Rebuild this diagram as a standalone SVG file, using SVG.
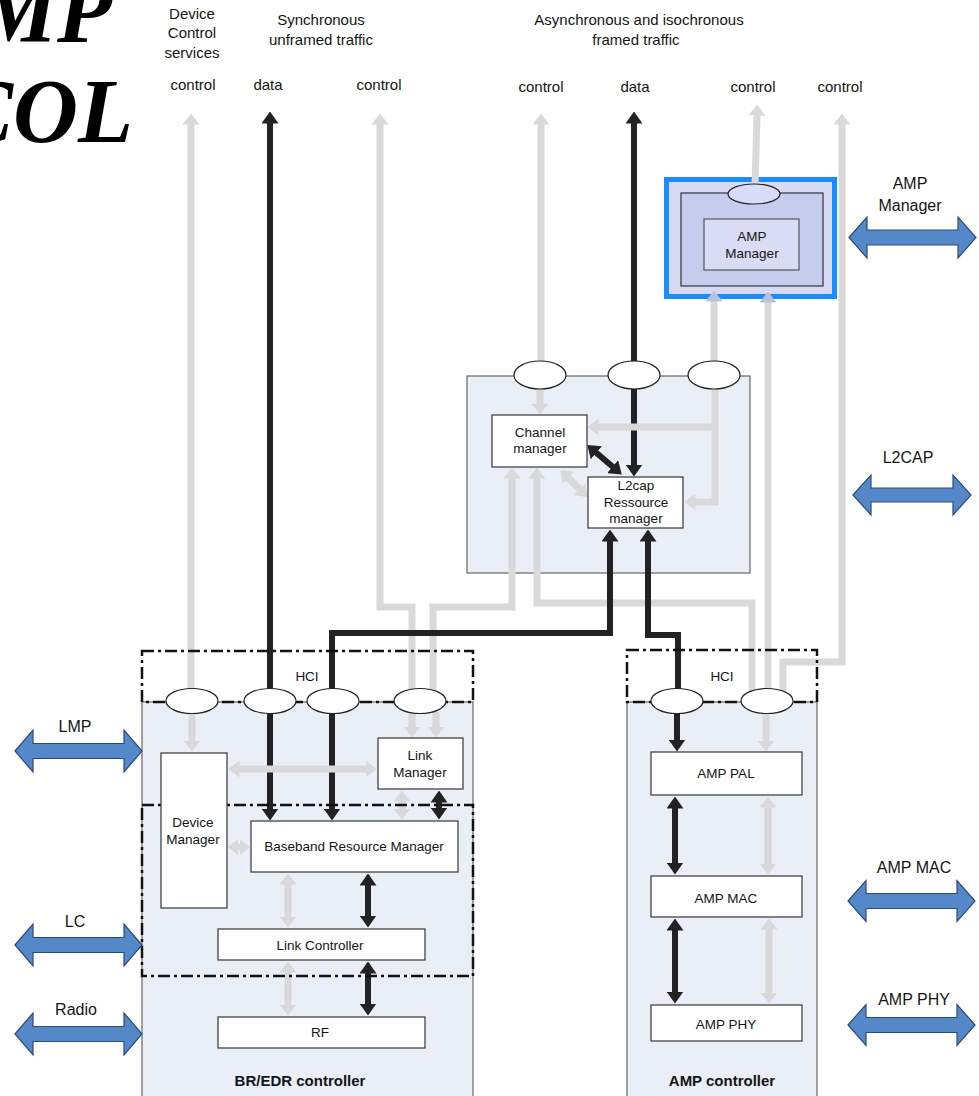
<svg xmlns="http://www.w3.org/2000/svg" width="979" height="1096" viewBox="0 0 979 1096">
<style>
text{font-family:"Liberation Sans",Arial,sans-serif;fill:#151515}
.hd{font-size:15px;text-anchor:middle}
.lb{font-size:13.5px;text-anchor:middle}
.sd{font-size:16px;text-anchor:middle}
.bd{font-size:15px;font-weight:bold;text-anchor:middle}
.ttl{font-family:"Liberation Serif","Times New Roman",serif;font-size:90px;font-weight:bold;font-style:italic;text-anchor:end;fill:#000}
.box{fill:#fff;stroke:#444;stroke-width:1.3}
.cont{fill:#e9eef7;stroke:#666;stroke-width:1.2}
.dd{fill:none;stroke:#111;stroke-width:2.5;stroke-dasharray:12 4 3 4}
.port{fill:#fff;stroke:#222;stroke-width:1.2}
.g{fill:none;stroke:#d9d9d9;stroke-width:7}
.k{fill:none;stroke:#222;stroke-width:6}
.blue{fill:#5588c8;stroke:#2c4a78;stroke-width:1.2}
</style>
<defs>
<marker id="ag" viewBox="0 0 11 17" refX="0.5" refY="8.5" markerWidth="11" markerHeight="17" markerUnits="userSpaceOnUse" orient="auto-start-reverse"><path d="M0,0 L11,8.5 L0,17 z" fill="#d9d9d9"/></marker>
<marker id="agp" viewBox="0 0 11 17" refX="0.5" refY="8.5" markerWidth="11" markerHeight="17" markerUnits="userSpaceOnUse" orient="auto-start-reverse"><path d="M0,0 L11,8.5 L0,17 z" fill="#bcc0dc"/></marker>
<marker id="ab" viewBox="0 0 12 17" refX="0.5" refY="8.5" markerWidth="12" markerHeight="17" markerUnits="userSpaceOnUse" orient="auto-start-reverse"><path d="M0,0 L12,8.5 L0,17 z" fill="#222"/></marker>
</defs>

<g id="title">
<text class="ttl" x="112" y="42">MP</text>
<text class="ttl" x="133" y="142">COL</text>
</g>

<g id="headings">
<text class="hd" x="192" y="19">Device</text>
<text class="hd" x="192" y="38">Control</text>
<text class="hd" x="192" y="58">services</text>
<text class="hd" x="321" y="25">Synchronous</text>
<text class="hd" x="321" y="45">unframed traffic</text>
<text class="hd" x="639" y="25">Asynchronous and isochronous</text>
<text class="hd" x="636" y="45">framed traffic</text>
<text class="hd" x="193" y="90">control</text>
<text class="hd" x="268" y="90">data</text>
<text class="hd" x="379" y="90">control</text>
<text class="hd" x="541" y="92">control</text>
<text class="hd" x="635" y="92">data</text>
<text class="hd" x="753" y="92">control</text>
<text class="hd" x="840" y="92">control</text>
</g>

<g id="containers">
<rect id="bredr-controller" class="cont" x="142" y="702" width="331" height="420"/>
<rect id="amp-controller" class="cont" x="627" y="702" width="190" height="420"/>
<rect id="l2cap-layer" class="cont" x="467" y="376" width="283" height="197"/>
<g id="amp-manager-layer">
<rect x="666.5" y="179.5" width="168" height="117" fill="#d6daf4" stroke="#1a8cff" stroke-width="5"/>
<rect x="681" y="193" width="142" height="93" fill="#c6ccee" stroke="#333" stroke-width="1.2"/>
</g>
</g>

<g id="connectors">
<path class="g" d="M191,124 L191,690" marker-start="url(#ag)"/>
<path class="k" d="M270,123 L270,690" marker-start="url(#ab)"/>
<path class="g" d="M380,124 L380,607 L412,607 L412,692" marker-start="url(#ag)"/>
<path class="g" d="M512,478 L512,607 L433,607 L433,692" marker-start="url(#ag)"/>
<path class="g" d="M537,478 L537,603 L752,603 L752,692" marker-start="url(#ag)"/>
<path class="g" d="M541,124 L541,364" marker-start="url(#ag)"/>
<path class="k" d="M634,123 L634,364" marker-start="url(#ab)"/>
<path class="g" d="M757,115 L755,186" marker-start="url(#ag)"/>
<path class="g" d="M842,124 L842,662 L783,662 L783,694" marker-start="url(#ag)"/>
<path class="g" d="M768,302 L768,692" marker-start="url(#agp)"/>
<path class="g" d="M714,364 L714,301" marker-end="url(#agp)"/>
<path class="k" d="M332,690 L332,633 L610,633 L610,541" marker-end="url(#ab)"/>
<path class="k" d="M678,690 L678,635 L648,635 L648,541" marker-end="url(#ab)"/>
<path class="g" d="M540,386 L540,404" marker-end="url(#ag)"/>
<path class="k" d="M634,386 L634,465" marker-end="url(#ab)"/>
<path class="g" d="M715,386 L715,502 L695,502" marker-end="url(#ag)"/>
<path class="g" d="M715,427 L598,427" marker-end="url(#ag)"/>
<path class="k" d="M596,452.5 L613,467" marker-start="url(#ab)" marker-end="url(#ab)"/>
<path class="g" d="M568,477.5 L580,489.5" marker-start="url(#ag)" marker-end="url(#ag)"/>
<path class="g" d="M192,712 L192,741" marker-end="url(#ag)"/>
<path class="k" d="M270,712 L270,809" marker-end="url(#ab)"/>
<path class="k" d="M332,712 L332,809" marker-end="url(#ab)"/>
<path class="g" d="M412,712 L412,727" marker-end="url(#ag)"/>
<path class="g" d="M436,712 L436,727" marker-end="url(#ag)"/>
<path class="g" d="M239,769 L366,769" marker-start="url(#ag)" marker-end="url(#ag)"/>
<polygon points="228,847 238,839 238,843.5 240,843.5 240,839 250,847 240,855 240,850.5 238,850.5 238,855" fill="#d9d9d9"/>
<path class="g" d="M402,801 L402,809" marker-start="url(#ag)" marker-end="url(#ag)"/>
<path class="k" d="M439,802 L439,808" marker-start="url(#ab)" marker-end="url(#ab)"/>
<path class="g" d="M288,884 L288,917" marker-start="url(#ag)" marker-end="url(#ag)"/>
<path class="k" d="M368,885 L368,916" marker-start="url(#ab)" marker-end="url(#ab)"/>
<path class="g" d="M288,972 L288,1005" marker-start="url(#ag)" marker-end="url(#ag)"/>
<path class="k" d="M368,973 L368,1004" marker-start="url(#ab)" marker-end="url(#ab)"/>
<path class="k" d="M677,712 L677,740" marker-end="url(#ab)"/>
<path class="g" d="M766,712 L766,741" marker-end="url(#ag)"/>
<path class="k" d="M675,808 L675,863" marker-start="url(#ab)" marker-end="url(#ab)"/>
<path class="g" d="M768,807 L768,864" marker-start="url(#ag)" marker-end="url(#ag)"/>
<path class="k" d="M675,930 L675,992" marker-start="url(#ab)" marker-end="url(#ab)"/>
<path class="g" d="M769,929 L769,993" marker-start="url(#ag)" marker-end="url(#ag)"/>
</g>

<g id="hci-bredr">
<rect class="dd" x="142" y="651" width="331" height="51"/>
<text class="lb" x="307" y="681">HCI</text>
</g>
<rect id="lc-region" class="dd" x="142" y="805" width="331" height="171"/>
<g id="hci-amp">
<rect class="dd" x="627" y="650" width="190" height="52"/>
<text class="lb" x="722" y="681">HCI</text>
</g>

<g id="ports">
<ellipse class="port" cx="192" cy="701" rx="26" ry="12.5"/>
<ellipse class="port" cx="270" cy="701" rx="26" ry="12.5"/>
<ellipse class="port" cx="333" cy="701" rx="26" ry="12.5"/>
<ellipse class="port" cx="420" cy="701" rx="26" ry="12.5"/>
<ellipse class="port" cx="677" cy="701" rx="26" ry="12.5"/>
<ellipse class="port" cx="767" cy="701" rx="26" ry="12.5"/>
<ellipse class="port" cx="540" cy="375" rx="26" ry="14"/>
<ellipse class="port" cx="634" cy="375" rx="26" ry="14"/>
<ellipse class="port" cx="714" cy="375" rx="26" ry="14"/>
<ellipse cx="754" cy="194" rx="26" ry="10" fill="#d8dcf6" stroke="#222" stroke-width="1.2"/>
</g>

<g id="amp-manager">
<rect x="704" y="219" width="95" height="51" fill="#dadcf6" stroke="#555" stroke-width="1.2"/>
<text class="lb" x="752" y="241">AMP</text>
<text class="lb" x="752" y="258">Manager</text>
</g>
<g id="channel-manager">
<rect class="box" x="492" y="415" width="95" height="52"/>
<text class="lb" x="540" y="437">Channel</text>
<text class="lb" x="540" y="453">manager</text>
</g>
<g id="l2cap-resource-manager">
<rect class="box" x="588" y="477" width="95" height="51"/>
<text class="lb" x="636" y="490">L2cap</text>
<text class="lb" x="636" y="507">Ressource</text>
<text class="lb" x="636" y="523">manager</text>
</g>
<g id="device-manager">
<rect class="box" x="161" y="753" width="66" height="155"/>
<text class="lb" x="193" y="827">Device</text>
<text class="lb" x="193" y="844">Manager</text>
</g>
<g id="link-manager">
<rect class="box" x="378" y="738" width="85" height="51"/>
<text class="lb" x="420" y="760">Link</text>
<text class="lb" x="420" y="777">Manager</text>
</g>
<g id="baseband-resource-manager">
<rect class="box" x="251" y="821" width="207" height="51"/>
<text class="lb" x="354" y="851">Baseband Resource Manager</text>
</g>
<g id="link-controller">
<rect class="box" x="218" y="929" width="207" height="31"/>
<text class="lb" x="320" y="950">Link Controller</text>
</g>
<g id="rf">
<rect class="box" x="218" y="1017" width="207" height="31"/>
<text class="lb" x="320" y="1037">RF</text>
</g>
<text id="bredr-label" class="bd" x="300" y="1086">BR/EDR controller</text>

<g id="amp-pal">
<rect class="box" x="651" y="752" width="151" height="43"/>
<text class="lb" x="726" y="778">AMP PAL</text>
</g>
<g id="amp-mac">
<rect class="box" x="651" y="876" width="151" height="41"/>
<text class="lb" x="726" y="903">AMP MAC</text>
</g>
<g id="amp-phy">
<rect class="box" x="651" y="1005" width="151" height="36"/>
<text class="lb" x="726" y="1029">AMP PHY</text>
</g>
<text id="amp-label" class="bd" x="722" y="1086">AMP controller</text>

<g id="lmp">
<polygon class="blue" points="15,751 33,730 33,743.5 124,743.5 124,730 142,751 124,772 124,758.5 33,758.5 33,772"/>
<text class="sd" x="75" y="732">LMP</text>
</g>
<g id="lc">
<polygon class="blue" points="15,945 33,924 33,937.5 124,937.5 124,924 142,945 124,966 124,952.5 33,952.5 33,966"/>
<text class="sd" x="75" y="927">LC</text>
</g>
<g id="radio">
<polygon class="blue" points="15,1034 33,1013 33,1026.5 124,1026.5 124,1013 142,1034 124,1055 124,1041.5 33,1041.5 33,1055"/>
<text class="sd" x="76" y="1015">Radio</text>
</g>
<g id="amp-manager-if">
<polygon class="blue" points="849,237.5 867,217 867,230 958,230 958,217 976,237.5 958,258 958,245 867,245 867,258"/>
<text class="sd" x="910" y="189">AMP</text>
<text class="sd" x="910" y="211">Manager</text>
</g>
<g id="l2cap-if">
<polygon class="blue" points="853,495 871,475 871,488 953,488 953,475 971,495 953,515 953,502 871,502 871,515"/>
<text class="sd" x="908" y="463">L2CAP</text>
</g>
<g id="amp-mac-if">
<polygon class="blue" points="848,901 866,880.5 866,893.5 957,893.5 957,880.5 975,901 957,921.5 957,908.5 866,908.5 866,921.5"/>
<text class="sd" x="914" y="873">AMP MAC</text>
</g>
<g id="amp-phy-if">
<polygon class="blue" points="848,1025 866,1004.5 866,1017.5 957,1017.5 957,1004.5 975,1025 957,1045.5 957,1032.5 866,1032.5 866,1045.5"/>
<text class="sd" x="914" y="1005">AMP PHY</text>
</g>
</svg>
